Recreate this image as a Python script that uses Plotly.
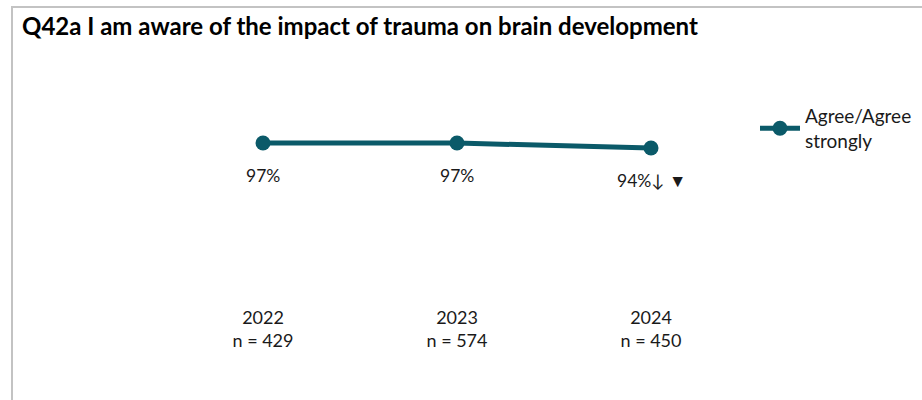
import plotly.graph_objects as go

years = ["2022", "2023", "2024"]
n_sizes = ["429", "574", "450"]
agree = [97, 97, 94]
value_labels = ["97%", "97%", "94%↓ ▼"]
series_name = "Agree/Agree<br>strongly"
title_text = "Q42a I am aware of the impact of trauma on brain development"

teal = "#0b5a69"
font_family = "Lato, 'Open Sans', Arial, sans-serif"

tick_text = [f"{y}<br>n = {n}" for y, n in zip(years, n_sizes)]

fig = go.Figure()
fig.add_trace(go.Scatter(
    x=years, y=agree, mode="lines+markers", name=series_name,
    line=dict(color=teal, width=5),
    marker=dict(color=teal, size=15),
    cliponaxis=False,
    showlegend=True,
))

for i, (y, t) in enumerate(zip(agree, value_labels)):
    fig.add_annotation(x=i, y=y, text=t, showarrow=False, yshift=-32,
                       xref="x", yref="y",
                       font=dict(size=17.5, color="#1a1a1a", family=font_family))

L, R, T, B = 166, 174, 138, 95
W, H = 922, 400
pw, ph = W - L - R, H - T - B

def px_to_paper_x(px):
    return (px - L) / pw

def px_to_paper_y(py):
    return (H - B - py) / ph

fig.add_shape(type="rect", xref="paper", yref="paper",
              x0=px_to_paper_x(12), x1=px_to_paper_x(940),
              y0=px_to_paper_y(420), y1=px_to_paper_y(7),
              line=dict(color="#c3c3c3", width=2), fillcolor="rgba(0,0,0,0)", layer="below")

fig.update_layout(
    width=W, height=H,
    margin=dict(l=L, r=R, t=T, b=B, autoexpand=False),
    paper_bgcolor="white", plot_bgcolor="white",
    title=dict(text=f"<b>{title_text}</b>", x=22 / W, xanchor="left", y=1 - 27 / H, yanchor="middle",
               font=dict(size=24, color="#000000", family=font_family)),
    xaxis=dict(type="category", range=[-0.5, 2.5], tickmode="array", tickvals=years, ticktext=tick_text,
               showgrid=False, showline=False, zeroline=False, ticks="",
               tickfont=dict(size=18, color="#1a1a1a", family=font_family)),
    yaxis=dict(range=[0, 100], visible=False),
    legend=dict(x=px_to_paper_x(755), xanchor="left", y=px_to_paper_y(97), yanchor="top",
                font=dict(size=19, color="#1a1a1a", family=font_family),
                bgcolor="rgba(0,0,0,0)", itemwidth=40),
)

fig.write_html("out.html", config={"displayModeBar": False},
               post_script="document.body.style.margin='0';document.body.style.padding='0';")
